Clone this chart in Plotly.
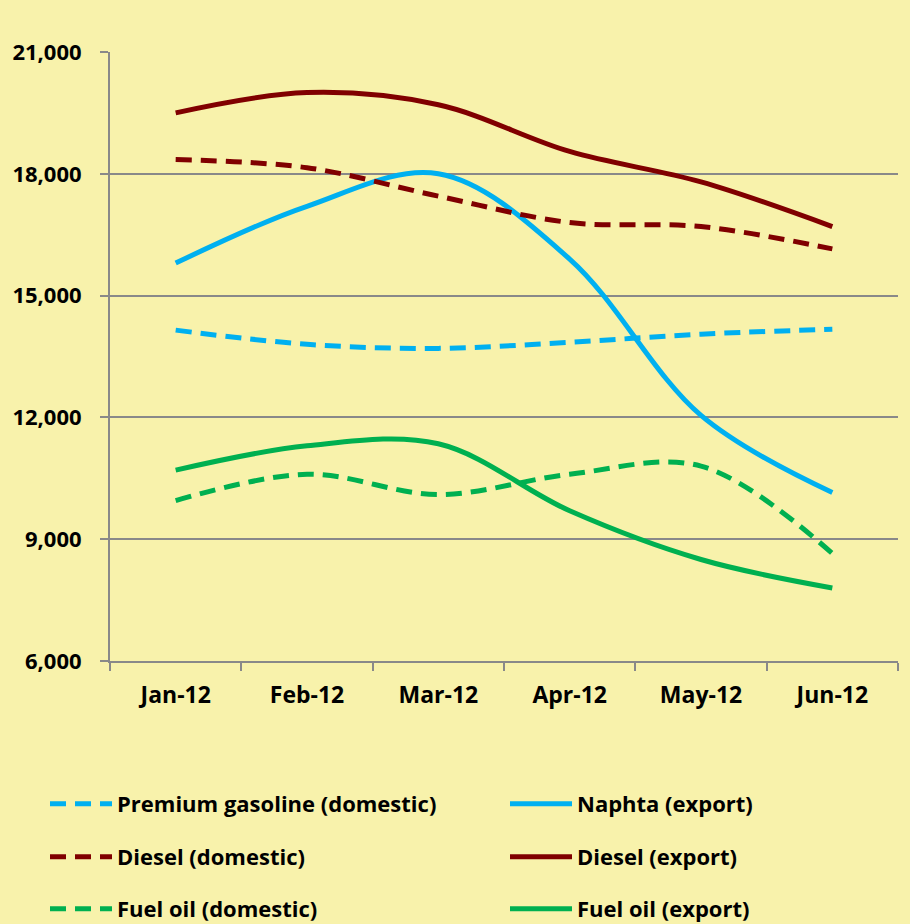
import plotly.graph_objects as go

months = ["Jan-12", "Feb-12", "Mar-12", "Apr-12", "May-12", "Jun-12"]
premium_gasoline_dom = [14150, 13800, 13700, 13850, 14050, 14170]
naphta_exp = [15800, 17200, 18000, 15900, 12050, 10150]
diesel_dom = [18350, 18150, 17450, 16800, 16700, 16150]
diesel_exp = [19500, 20000, 19700, 18550, 17800, 16700]
fuel_oil_dom = [9950, 10600, 10100, 10600, 10800, 8650]
fuel_oil_exp = [10700, 11300, 11350, 9700, 8500, 7800]

BLUE = "#00B0F0"
RED = "#800000"
GREEN = "#00B050"
BG = "#F8F2AB"
FONT = "Open Sans"
DASH = "16px,9px"

series = [
    ("Premium gasoline (domestic)", premium_gasoline_dom, BLUE, DASH),
    ("Naphta (export)", naphta_exp, BLUE, "solid"),
    ("Diesel (domestic)", diesel_dom, RED, DASH),
    ("Diesel (export)", diesel_exp, RED, "solid"),
    ("Fuel oil (domestic)", fuel_oil_dom, GREEN, DASH),
    ("Fuel oil (export)", fuel_oil_exp, GREEN, "solid"),
]

PLOT_L, PLOT_R, PLOT_T, PLOT_B = 110, 898, 52, 661
PW, PH = PLOT_R - PLOT_L, PLOT_B - PLOT_T
ITEM_W = 62
text_x = [117, 577]
row_y = [804, 857, 909]

fig = go.Figure()
legends = {}
for i, (name, vals, color, dash) in enumerate(series):
    lg = "legend" if i == 0 else f"legend{i + 1}"
    fig.add_trace(go.Scatter(
        x=months, y=vals, name=name, mode="lines",
        line=dict(color=color, width=5, dash=dash, shape="spline", smoothing=1),
        legend=lg, showlegend=True,
    ))
    col, row = i % 2, i // 2
    legends[lg] = dict(
        xanchor="left", yanchor="middle",
        x=(text_x[col] - (ITEM_W + 10) - PLOT_L) / PW,
        y=(PLOT_B - row_y[row]) / PH,
        itemwidth=ITEM_W,
        font=dict(family=FONT, size=22, color="black", weight="bold"),
        bgcolor="rgba(0,0,0,0)", borderwidth=0,
    )

fig.update_layout(
    width=910, height=924,
    showlegend=True,
    paper_bgcolor=BG, plot_bgcolor=BG,
    margin=dict(l=PLOT_L, r=910 - PLOT_R, t=PLOT_T, b=924 - PLOT_B, autoexpand=False),
    font=dict(family=FONT, size=21, color="black", weight="bold"),
    xaxis=dict(
        type="category", range=[-0.5, 5.5], tickson="boundaries",
        ticks="outside", ticklen=8, tickcolor="#898989", tickwidth=2,
        showline=True, linecolor="#898989", linewidth=2,
        showgrid=False, zeroline=False,
        tickfont=dict(family=FONT, size=23, color="black", weight="bold"),
        ticklabelstandoff=12,
    ),
    yaxis=dict(
        range=[6000, 21000], dtick=3000, tickformat=",",
        ticks="outside", ticklen=8, tickcolor="#898989", tickwidth=2,
        showline=True, linecolor="#898989", linewidth=2,
        showgrid=True, gridcolor="#898989", gridwidth=2, zeroline=False,
        tickfont=dict(family=FONT, size=22, color="black", weight="bold"),
        ticklabelstandoff=14,
    ),
    **legends,
)

fig.write_html(
    "out.html",
    config={"displayModeBar": False},
    post_script="document.body.style.margin='0px';document.body.style.overflow='hidden';",
)
